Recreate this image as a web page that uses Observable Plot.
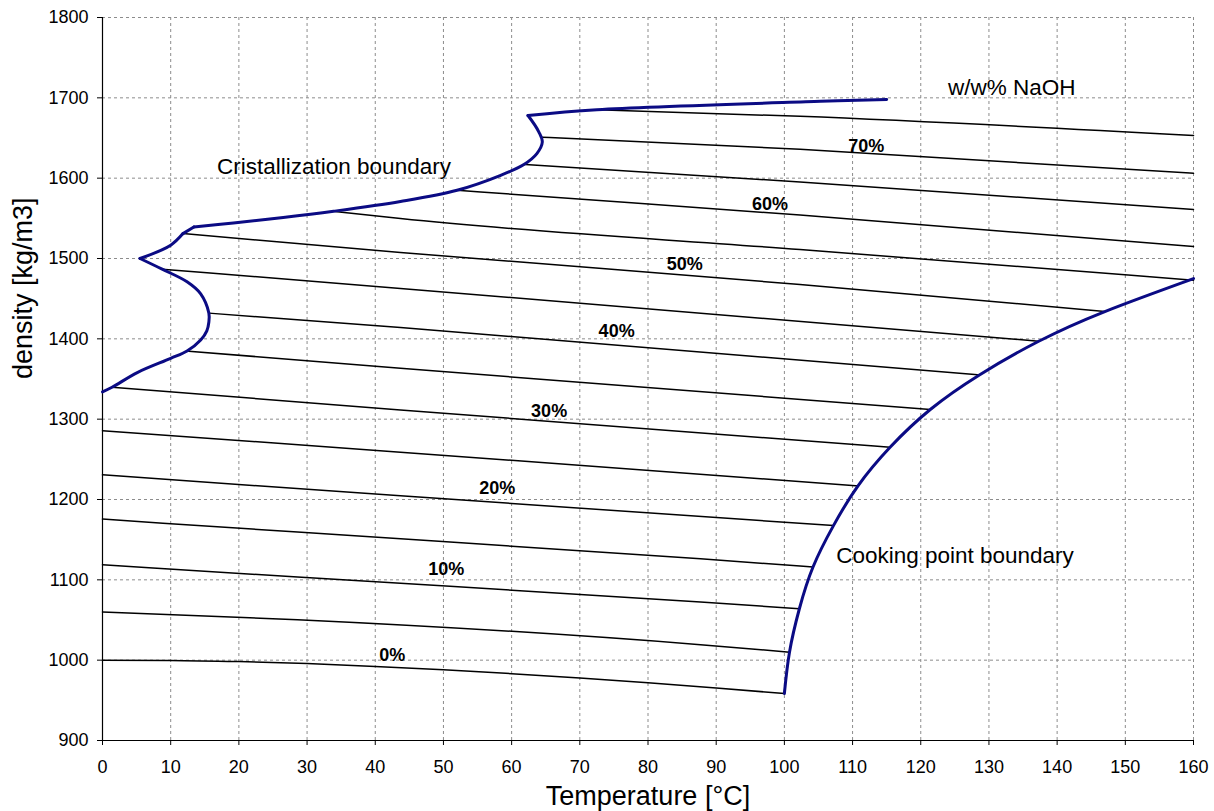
<!DOCTYPE html>
<html>
<head>
<meta charset="utf-8">
<script src="https://cdn.jsdelivr.net/npm/d3@7"></script>
<script src="https://cdn.jsdelivr.net/npm/@observablehq/plot@0.6"></script>
<style>
  html, body { margin: 0; padding: 0; background: #fff; }
  #chart svg { display: block; }
</style>
</head>
<body>
<div id="chart"></div>
<script>
// ---- Data (temperature °C, density kg/m3) ----
const xTicks = [0, 10, 20, 30, 40, 50, 60, 70, 80, 90, 100, 110, 120, 130, 140, 150, 160];
const yTicks = [900, 1000, 1100, 1200, 1300, 1400, 1500, 1600, 1700, 1800];

// iso-concentration lines (w/w% NaOH)
const w00 = [[0,1000],[10,999.7],[20,998.2],[30,995.7],[40,992.2],[50,988],[60,983.2],[70,977.8],[80,971.8],[90,965.3],[100,958.5]];
const w05 = [[0,1060],[28.6,1050.4],[87.7,1019.3],[100.75,1010]];
const w10 = [[0,1118.8],[28.6,1103.5],[87.7,1072.4],[102.2,1064]];
const w15 = [[0,1175.6],[28.6,1159.4],[87.7,1126.2],[104.2,1116]];
const w20 = [[0,1230.7],[43.7,1204.6],[107.2,1167.5]];
const w25 = [[0,1285.7],[43.7,1258.9],[110.8,1217]];
const w30 = [[1.4,1339.7],[43.7,1311.5],[115.5,1265]];
const w35 = [[12.4,1384.8],[43.7,1363.3],[121.4,1312]];
const w40 = [[15.6,1432],[43.7,1414.2],[128.6,1355]];
const w45 = [[8.75,1486.7],[43.7,1462.7],[137.3,1397]];
const w50 = [[11.8,1531],[43.7,1507.5],[102.3,1467.7],[147,1434]];
const w55 = [[33.9,1558.8],[43.7,1549.7],[102.3,1511.2],[160,1473]];
const w60 = [[52,1585],[60,1580],[102.3,1554],[160,1515]];
const w65 = [[61.8,1617],[102.3,1595.3],[160,1561]];
const w70 = [[64.5,1651],[102.3,1636],[160,1606]];
const w75 = [[72.5,1685.3],[102.3,1677],[160,1653]];

const concentrations = ["0%","5%","10%","15%","20%","25%","30%","35%","40%","45%","50%","55%","60%","65%","70%","75%"];
const isoSeries = [w00,w05,w10,w15,w20,w25,w30,w35,w40,w45,w50,w55,w60,w65,w70,w75];

// crystallization boundary, in pieces between its corners
const cryst1 = [[0,1334],[1.4,1339.7],[5.1,1358],[10,1375.7],[12.4,1384.8],[14.4,1398.5],[15.3,1410],[15.6,1421],[15.6,1432],[14.4,1456],[12.4,1471],[8.75,1486.7],[5.5,1500]];
const cryst2 = [[5.5,1500],[10,1516.6],[11.8,1531]];
const cryst3 = [[11.8,1531],[13.4,1539.3]];
const cryst4 = [[13.4,1539.3],[19.2,1544.3],[26.5,1551],[33.9,1558.8],[43.7,1571],[52,1585],[58.4,1603.6],[61.8,1617],[63.7,1630.6],[64.5,1645],[64,1657.4],[62.4,1678]];
const cryst5 = [[62.4,1678],[72.5,1685.3],[105.3,1695.6],[115,1698]];
const crystPieces = [cryst1, cryst2, cryst3, cryst4, cryst5];

// cooking point boundary
const cooking = [
  [100,958.5],[100.75,1010],[102.2,1064],[104.2,1116],[107.2,1167.5],[110.8,1217],[115.5,1265],
  [121.4,1312],[128.6,1355],[137.3,1397],[147,1434],[160,1475]
];

// labels on the iso lines
const pctText = ["0%","10%","20%","30%","40%","50%","60%","70%"];
const pctT    = [42.5, 50.4, 57.9, 65.5, 75.4, 85.4, 97.9, 112];
const pctRho  = [998.6, 1106.4, 1207, 1303, 1402, 1485.5, 1560, 1632.6];

// annotations
const noteText = ["Cristallization boundary", "Cooking point boundary", "w/w% NaOH"];
const noteT    = [16.8, 107.6, 124];
const noteRho  = [1605.6, 1120.9, 1703];

// ---- Build tables ----
const isoRows = isoSeries.flatMap((pts, i) => pts.map(([T, rho]) => ({c: concentrations[i], T, rho})));
const crystRows = crystPieces.flatMap((pts, i) => pts.map(([T, rho]) => ({piece: i, T, rho})));
const cookRows = cooking.map(([T, rho]) => ({T, rho}));
const pctRows = pctText.map((t, i) => ({text: t, T: pctT[i], rho: pctRho[i]}));
const noteRows = noteText.map((t, i) => ({text: t, T: noteT[i], rho: noteRho[i]}));

const blue = "#0b0b84";
const font = "'Liberation Sans', Arial, Helvetica, sans-serif";

const chart = Plot.plot({
  width: 1214,
  height: 811,
  marginTop: 17,
  marginRight: 21,
  marginBottom: 71,
  marginLeft: 102,
  style: {fontFamily: font, background: "#fff", color: "#000"},
  x: {domain: [0, 160]},
  y: {domain: [900, 1800]},
  marks: [
    Plot.gridX(xTicks, {stroke: "#8c8c8c", strokeOpacity: 1, strokeDasharray: "3,3", strokeWidth: 1}),
    Plot.gridY(yTicks, {stroke: "#8c8c8c", strokeOpacity: 1, strokeDasharray: "3,3", strokeWidth: 1}),
    Plot.axisX(xTicks, {tickSize: 5, tickPadding: 15, fontSize: 18, label: null, stroke: "#000", tickFormat: d => String(d)}),
    Plot.axisY(yTicks, {tickSize: 5, tickPadding: 9, fontSize: 18, label: null, stroke: "#000", tickFormat: d => String(d)}),
    Plot.ruleX([0], {stroke: "#000", strokeWidth: 1.2}),
    Plot.ruleY([900], {stroke: "#000", strokeWidth: 1.2}),
    Plot.line(isoRows, {x: "T", y: "rho", z: "c", stroke: "#000", strokeWidth: 1.5, curve: "monotone-x"}),
    Plot.line(crystRows, {x: "T", y: "rho", z: "piece", stroke: blue, strokeWidth: 3, curve: "catmull-rom"}),
    Plot.line(cookRows, {x: "T", y: "rho", stroke: blue, strokeWidth: 3, curve: "natural"}),
    Plot.text(pctRows, {x: "T", y: "rho", text: "text", fontSize: 18, fontWeight: "bold", textAnchor: "middle", lineAnchor: "bottom", fill: "#000"}),
    Plot.text(noteRows, {x: "T", y: "rho", text: "text", fontSize: 22.5, textAnchor: "start", lineAnchor: "bottom", fill: "#000"}),
    Plot.text(["Temperature [°C]"], {frameAnchor: "bottom", dy: 64, fontSize: 27, lineAnchor: "bottom", fill: "#000"}),
    Plot.text(["density [kg/m3]"], {frameAnchor: "left", dx: -71, rotate: -90, fontSize: 27, lineAnchor: "bottom", fill: "#000"})
  ]
});

document.getElementById("chart").appendChild(chart);
</script>
</body>
</html>
